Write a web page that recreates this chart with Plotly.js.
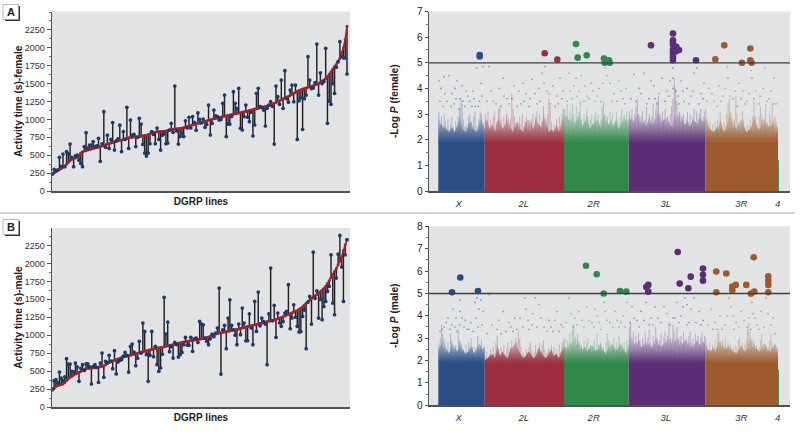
<!DOCTYPE html>
<html><head><meta charset="utf-8">
<script src="https://cdn.plot.ly/plotly-3.0.0.min.js"></script>
<style>html,body{margin:0;padding:0;background:#fff}#c{width:800px;height:438px}</style></head>
<body><div id="c"></div>
<script>
// Panel A line means (red) and the paired measurement (blue), by rank
const meanFemale=[232,250,268,285,300,315,330,345,372,398,425,445,455,462,470,490,530,548,558,565,572,580,588,595,600,608,612,620,628,635,645,655,662,670,678,688,695,702,708,714,720,728,735,742,748,752,755,758,760,762,765,770,775,780,790,800,810,818,822,826,828,830,832,835,838,845,852,860,862,865,868,870,874,878,885,892,900,908,915,922,930,938,945,950,958,965,972,980,988,995,1002,1008,1015,1020,1026,1032,1038,1044,1050,1056,1062,1068,1073,1078,1083,1088,1094,1100,1106,1112,1118,1124,1130,1137,1144,1150,1156,1162,1168,1174,1180,1188,1196,1205,1215,1225,1235,1250,1262,1275,1288,1300,1310,1322,1335,1350,1365,1378,1392,1405,1415,1425,1432,1440,1448,1455,1462,1470,1480,1490,1500,1515,1535,1550,1570,1595,1630,1665,1700,1740,1765,1800,1850,1930,2000,2115,2300];
const pairFemale=[240,302,280,295,470,345,517,340,550,520,656,470,340,490,500,430,385,340,620,815,600,640,640,690,620,630,735,414,660,1108,610,780,595,720,955,572,700,730,920,550,830,720,1168,595,990,780,790,620,750,1015,935,650,530,488,530,660,830,790,660,880,720,572,780,800,660,670,850,945,820,1466,840,655,760,800,760,980,880,1030,880,1040,960,850,1090,1000,950,1005,890,930,1200,782,945,1131,1050,1040,990,1000,1224,1340,760,935,935,1040,1387,1224,1155,1434,875,852,1040,1200,1030,968,1100,768,922,1364,1434,1180,1168,1130,908,1155,1200,1248,1180,656,1466,1317,1210,1550,1154,1680,1290,1240,1410,1480,1248,1480,721,1260,1300,861,1290,1340,1876,1550,1430,1440,1513,2053,1340,1650,1500,1530,1992,945,1255,1210,1500,1364,1730,1806,2085,1880,1860,1860,1634];
// Panel B
const meanMale=[235,258,285,300,308,312,320,340,370,395,415,430,445,458,470,482,495,510,525,533,538,540,542,545,548,552,555,560,566,575,590,605,620,630,640,650,660,670,680,688,695,702,708,715,722,728,735,742,750,756,762,768,775,782,790,798,805,812,815,820,824,828,832,838,845,852,858,862,868,875,880,888,895,900,905,910,915,920,925,928,932,935,938,945,950,955,960,968,975,985,995,1005,1015,1022,1030,1035,1040,1045,1050,1055,1060,1065,1070,1075,1080,1085,1092,1100,1108,1114,1120,1126,1132,1138,1144,1150,1156,1162,1168,1175,1182,1190,1196,1200,1206,1212,1220,1228,1238,1248,1258,1268,1280,1290,1300,1312,1322,1332,1345,1360,1375,1395,1420,1445,1465,1490,1510,1530,1550,1565,1585,1605,1630,1650,1680,1720,1760,1800,1850,1890,1930,1980,2030,2090,2180,2260,2330];
const pairMale=[250,366,380,340,487,404,366,420,673,598,598,497,490,612,560,357,540,590,510,600,600,560,320,566,590,550,343,612,752,413,636,620,720,640,534,784,460,627,650,660,710,760,720,487,845,877,765,575,680,914,750,1170,1053,730,357,720,1053,700,845,590,497,543,735,1527,1016,1183,770,840,682,900,870,696,730,760,868,970,860,860,970,775,950,960,900,1192,1155,1145,960,914,868,950,1016,980,1030,1100,1656,459,1076,1137,812,1239,1494,1137,1076,1000,868,1155,1007,1378,1169,923,923,1299,1100,868,1471,1053,1600,1130,1239,1190,1155,589,1299,1935,1200,1415,970,1308,1170,1123,1190,1308,1332,1703,1090,1240,1424,1250,1123,1044,1050,1262,1350,812,1461,1540,1155,2157,1513,1619,1239,1500,1216,1400,1470,1610,1680,2120,1448,1285,1796,2130,2390,1950,1471,2120,2330];
const lineTicks=[0,250,500,750,1000,1250,1500,1750,2000,2250];

// Chromosomes
const chromNames=['X','2L','2R','3L','3R','4'];
const chromStart=[9.3,55.7,135,199.7,276.3,349];
const chromEnd=[55.7,135,199.7,276.3,349,349.9];
const chromColors=['#2a4d86','#9c2e40','#30894b','#5b2e76','#9d5a2c','#30894b'];
const chromRGB=['42,77,134','156,46,64','48,137,75','91,46,118','157,90,44','48,137,75'];
const chromLabelPos=[29.7,94.7,164.7,236.7,312.3,348.7];

// -log P upper envelopes read along each chromosome
const envF_X=[2.9,2.6,2.5,2.4,2.3,2.5,2.3,2.6,2.9,2.4,2.3,2.6,2.7,2.4,2.3,2.7,2.8,2.4];
const envF_2L=[2.7,2.8,2.4,2.6,2.3,2.9,2.7,2.4,2.6,3.1,2.5,2.3,2.6,2.7,2.4,2.3,2.7,2.8,2.7,2.4,2.9,2.6,2.5,3.1,2.8,2.3,2.4,2.3,2.6,2.3,2.7,2.9];
const envF_2R=[2.9,3.0,2.7,3.0,2.6,2.8,3.0,2.5,2.7,2.9,2.4,2.6,2.7,2.8,2.5,2.9,3.0,2.6,2.7,2.5,2.8,2.4,2.6,2.9,2.7,2.8];
const envF_3L=[2.8,2.9,2.7,3.0,3.1,2.6,2.8,2.5,2.9,2.7,2.6,3.0,3.2,2.7,2.8,2.9,2.6,2.5,3.0,3.3,3.1,2.8,2.6,2.7,2.5,2.8,2.7,2.6,2.9,2.7,2.8];
const envF_3R=[2.9,2.6,2.4,2.3,2.4,2.5,2.8,2.3,2.4,2.9,3.1,2.6,2.4,2.7,2.8,2.5,2.3,2.4,2.6,3.0,2.5,2.4,2.9,2.7,2.6,2.5,2.7,3.0,2.3];
const envF_4=[1.2,1.2];
const envM_X=[2.5,2.7,3.1,2.5,2.3,2.8,2.6,2.4,2.9,2.5,2.3,2.4,2.7,2.3,2.5,2.8,2.5,2.6];
const envM_2L=[2.0,2.1,2.2,2.3,2.1,2.7,2.2,2.4,2.2,2.1,2.5,2.6,2.9,2.5,2.3,2.1,2.2,2.4,2.3,2.1,2.2,2.6,2.4,2.2,2.1,2.3,2.5,2.2,2.3,2.1,2.4,2.6];
const envM_2R=[2.7,2.5,2.8,2.7,3.0,3.1,2.8,2.5,2.6,2.4,2.6,2.7,2.4,2.5,2.8,2.5,2.3,2.5,2.8,2.7,2.4,2.6,2.8,2.5,2.3,2.6];
const envM_3L=[3.0,3.1,2.7,2.8,2.9,2.6,2.7,2.9,2.7,2.6,2.9,3.0,2.7,2.6,2.8,3.0,2.9,3.2,2.8,3.1,3.0,2.7,2.9,2.9,2.7,2.6,2.8,2.9,2.7,2.9,2.8];
const envM_3R=[2.7,2.5,2.4,2.6,2.4,2.8,2.9,2.6,2.5,2.7,2.5,2.4,2.3,2.5,2.7,2.4,2.5,3.0,3.2,2.7,2.5,2.4,2.6,2.8,2.5,2.4,2.6,2.8,2.3];
const envM_4=[1.6,1.6];

// Narrow streaks of stacked SNPs: top of each streak
const spikeF_X=[3.1,2.6,2.9,2.4,3.0,2.7,2.5,2.8,2.4,2.6,2.9,2.5,2.3,2.7,2.5,2.9,3.2,3.6,3.4,2.8,2.5,2.6,2.3,2.9,3.0,2.7,2.4,2.9,3.1,2.5,2.3,2.8,3.1,3.0,2.6,2.4];
const spikeF_2L=[3.0,2.7,3.1,2.5,2.8,2.6,2.9,3.1,2.4,2.7,3.2,3.3,2.8,2.5,2.9,2.6,3.0,2.7,2.4,2.8,3.8,3.2,2.9,2.5,2.7,2.4,2.9,2.6,3.0,2.5,2.7,2.9,2.4,2.6,2.3,2.8,3.0,2.5,2.9,3.1,2.6,3.0,2.5,2.7,3.3,2.8,2.5,3.0,3.6,3.3,2.7,2.4,2.6,2.3,2.8,2.5,2.9,2.4,3.0,3.2];
const spikeF_2R=[3.2,2.9,3.4,2.8,3.1,2.7,3.4,3.0,2.7,3.3,2.9,3.1,3.5,2.8,2.6,3.0,2.7,3.2,2.9,2.6,2.8,3.0,2.6,2.9,3.1,2.7,3.0,2.6,2.8,3.3,3.5,3.0,2.7,2.9,2.6,3.1,2.8,3.0,2.6,2.7,3.1,2.8,2.6,2.9,3.2,2.7,3.0,2.8,3.1,2.6];
const spikeF_3L=[3.1,2.8,3.2,2.7,3.0,3.3,3.6,3.0,2.7,2.9,3.1,2.6,2.8,3.3,2.7,3.0,2.6,2.9,3.4,2.8,3.2,3.5,3.7,3.0,2.7,3.1,2.8,3.2,2.6,2.9,2.7,3.0,3.3,3.6,4.4,4.0,3.5,2.9,3.1,2.7,2.9,3.0,2.6,2.8,3.1,2.7,3.0,2.6,2.9,3.2,2.7,3.1,2.8,3.0,3.2,2.7,2.9,3.1];
const spikeF_3R=[3.2,2.8,2.5,2.7,2.4,2.6,2.3,2.7,2.5,2.8,2.4,3.1,2.6,2.4,2.7,2.5,3.0,3.4,3.6,3.1,2.7,2.5,2.8,3.7,3.0,2.6,2.4,2.7,3.1,2.8,2.5,2.3,2.6,2.4,2.8,2.5,2.9,3.5,2.9,2.6,2.4,2.9,3.3,3.0,2.6,2.8,3.4,2.7,2.5,3.0,2.8,3.4,2.6,2.4,2.3,2.5];
const spikeM_X=[2.7,3.0,3.6,3.2,2.6,2.3,2.5,2.8,2.4,3.2,2.9,2.5,2.3,2.7,2.4,3.4,2.9,2.6,2.4,2.5,2.3,2.7,2.4,2.8,2.5,3.0,2.6,2.4,2.6,2.3,3.1,2.5,2.7,2.9,2.4,2.6];
const spikeM_2L=[2.2,2.4,2.1,2.3,2.5,2.2,2.6,2.3,2.8,3.1,2.5,2.3,2.6,2.4,2.7,2.3,2.5,2.8,2.4,2.6,2.9,2.4,2.7,3.0,2.8,3.3,3.0,2.6,2.3,2.4,2.2,2.5,2.3,2.6,2.8,2.5,2.3,2.4,2.7,2.3,2.5,2.8,2.4,2.7,2.9,2.5,2.3,2.4,2.6,2.3,2.7,2.4,2.6,2.3,2.5,2.3,2.7,2.4,2.8,2.9];
const spikeM_2R=[3.0,2.6,2.9,2.5,3.2,2.8,3.4,3.6,3.1,2.7,3.2,2.8,2.5,2.7,2.4,2.9,2.6,2.8,3.0,2.5,2.7,2.4,2.6,2.9,2.5,3.2,2.7,2.5,2.8,2.4,2.6,2.4,2.8,3.2,2.9,2.6,2.4,2.7,3.0,2.6,2.8,2.5,3.1,2.7,2.4,2.6,2.8,2.5,2.9,2.7];
const spikeM_3L=[3.5,3.7,3.0,3.3,2.8,3.1,2.7,3.2,2.9,2.6,3.0,2.8,3.3,2.7,3.0,3.4,2.8,2.6,3.1,2.7,3.5,3.0,2.7,2.9,3.2,2.7,3.0,3.3,2.8,3.1,3.7,3.0,2.8,3.6,3.3,2.9,3.5,3.0,2.7,3.1,2.8,3.3,2.9,3.0,2.7,3.1,3.3,2.8,3.0,2.7,3.2,2.9,3.1,2.7,3.0,3.3,2.8,3.1];
const spikeM_3R=[3.0,2.7,2.5,2.8,2.4,2.7,2.5,2.9,2.6,3.2,3.3,2.8,2.6,2.9,2.7,3.0,2.6,2.8,2.5,2.7,2.4,2.6,2.3,2.7,2.5,2.9,3.0,2.6,2.8,2.5,2.7,2.9,3.4,3.7,3.3,2.9,2.6,2.8,2.5,2.7,2.4,2.6,2.9,3.2,2.7,2.5,2.7,2.4,2.6,2.9,3.2,2.8,2.5,2.7,2.4,2.6];

// Sparse low-significance SNPs [position, -log P]
const speckF_X=[[12,4.0],[15,4.45],[20,4.5],[23,3.8],[25,3.4],[28,4.3],[31,3.6],[33,4.1],[36,3.3],[39,3.7],[41,3.5],[44,3.9],[46,3.3],[48,4.8],[50,3.5],[52,4.2],[54,4.85],[14,3.3],[18,3.5],[30,3.2],[43,3.3],[11,3.5],[16,3.8],[22,3.3],[27,3.6],[34,3.5],[37,3.9],[45,3.6],[49,3.3],[53,3.7],[10,4.3],[26,4.0]];
const speckF_2L=[[60,4.85],[64,3.5],[70,4.0],[75,3.7],[80,3.4],[85,4.1],[90,3.9],[95,3.5],[100,3.3],[103,4.35],[106,3.8],[110,4.0],[113,4.6],[116,4.85],[118,3.9],[121,3.4],[124,4.1],[128,3.7],[131,4.4],[133,3.6],[72,3.3],[88,3.3],[108,3.4],[126,3.3],[58,3.5],[62,3.9],[67,3.4],[78,3.6],[83,3.6],[92,3.4],[97,3.8],[101,3.6],[111,3.5],[115,4.2],[120,3.8],[129,3.4],[134,3.9],[74,4.4],[94,4.2]];
const speckF_2R=[[140,4.6],[145,4.1],[150,3.9],[152,4.5],[158,3.7],[162,4.2],[166,3.5],[170,4.0],[176,4.8],[178,4.5],[181,4.2],[185,3.8],[190,4.3],[194,3.6],[197,4.0],[143,3.6],[155,3.5],[172,3.5],[188,3.5],[138,3.5],[141,3.9],[148,3.7],[156,4.1],[160,3.6],[164,3.9],[168,3.7],[174,4.2],[183,3.5],[192,3.9],[196,3.4],[147,4.4]];
const speckF_3L=[[205,4.55],[210,4.0],[215,4.6],[220,3.6],[225,4.1],[230,3.8],[233,4.4],[238,3.9],[241,4.3],[244,4.4],[244,4.0],[244,4.8],[247,3.9],[252,4.3],[255,3.5],[258,4.0],[262,3.7],[265,4.6],[268,4.8],[272,3.8],[275,4.2],[218,3.4],[228,3.4],[250,3.4],[202,3.6],[207,3.5],[212,3.8],[222,4.3],[226,3.6],[236,3.5],[240,3.7],[249,3.7],[254,3.9],[260,3.4],[264,3.9],[270,3.4],[274,3.6]];
const speckF_3R=[[280,4.0],[285,3.5],[290,4.1],[294,3.7],[298,4.85],[299,4.4],[304,3.6],[310,4.2],[314,3.9],[318,3.5],[322,4.7],[323,4.4],[327,3.9],[331,3.7],[336,4.8],[340,3.6],[345,4.4],[347,3.4],[288,3.3],[308,3.3],[330,3.4],[278,3.5],[283,3.8],[292,3.5],[296,4.0],[301,3.7],[306,3.9],[312,3.6],[316,3.4],[320,3.8],[325,3.6],[334,4.0],[338,3.5],[342,3.9],[344,3.4]];
const speckM_X=[[17,3.7],[21,3.4],[24,4.3],[27,3.9],[31,4.7],[31,4.2],[31,3.6],[35,3.5],[38,3.4],[42,3.7],[46,4.6],[48,4.8],[50,4.3],[52,4.7],[13,3.4],[28,3.3],[44,3.3],[53,3.6],[11,3.3],[15,3.5],[19,3.9],[23,3.6],[26,3.5],[33,3.9],[36,3.8],[40,3.4],[47,3.9],[49,3.5],[54,4.2]];
const speckM_2L=[[60,4.95],[68,3.4],[74,4.2],[80,3.7],[84,3.3],[91,3.9],[96,4.8],[97,4.3],[103,3.6],[106,4.8],[110,4.5],[115,3.5],[120,3.8],[124,3.3],[128,4.2],[132,3.6],[77,3.3],[88,3.4],[100,3.4],[118,3.3],[58,3.2],[63,3.6],[70,3.8],[72,3.2],[82,3.5],[86,3.9],[94,3.5],[99,3.8],[104,4.1],[108,3.5],[112,3.9],[122,3.5],[126,3.8],[130,3.3],[134,3.5]];
const speckM_2R=[[140,4.8],[146,3.9],[150,4.2],[155,3.5],[158,4.4],[163,3.7],[168,4.0],[175,4.6],[176,4.2],[181,3.7],[186,4.2],[190,3.5],[194,4.0],[198,4.6],[144,3.5],[153,3.8],[172,3.4],[184,3.5],[137,3.7],[142,4.1],[148,3.6],[160,3.8],[165,3.5],[170,3.7],[178,3.8],[188,3.8],[192,3.7],[196,3.5],[166,4.3]];
const speckM_3L=[[203,4.4],[208,3.8],[212,4.2],[217,4.6],[222,3.9],[226,4.4],[232,3.7],[238,4.1],[244,3.9],[248,4.6],[252,4.0],[256,4.8],[260,3.7],[265,4.8],[270,4.2],[274,3.8],[205,3.9],[229,3.9],[246,3.9],[262,4.3],[201,3.7],[210,3.5],[215,3.8],[220,3.6],[224,3.6],[235,4.4],[241,3.6],[250,3.7],[254,4.4],[258,3.6],[267,3.7],[272,3.6],[258,4.5]];
const speckM_3R=[[282,4.3],[286,3.7],[291,4.0],[296,3.6],[300,4.8],[302,4.4],[307,3.7],[312,4.2],[318,3.5],[323,4.6],[324,4.1],[328,3.6],[332,4.2],[337,4.8],[342,3.6],[346,3.2],[288,3.4],[305,3.4],[320,3.9],[335,3.5],[279,3.6],[284,3.4],[293,3.4],[298,4.0],[304,4.0],[310,3.5],[315,3.8],[322,3.4],[326,3.9],[330,3.4],[339,4.1],[344,3.9]];

// Genome-wide significant SNPs [position, -log P]
const sigF_X=[[50.7,5.3],[50.7,5.25]];
const sigF_2L=[[115.7,5.37],[128.3,5.13]];
const sigF_2R=[[147,5.73],[148.7,5.2],[157.7,5.29],[175,5.17],[175.7,5.0],[178,5.05],[180,5.1],[180.7,5.0]];
const sigF_3L=[[222,5.68],[244,6.14],[244,5.88],[244,5.78],[244,5.69],[244,5.5],[244,5.4],[244,5.3],[244,5.2],[244,5.1],[247.3,5.62],[247,5.45],[250,5.5],[267,5.1]];
const sigF_3R=[[286.3,5.14],[295.3,5.68],[313,5.0],[321.3,5.56],[321.3,5.1],[322.7,5.0]];
const sigM_X=[[23,5.05],[31.3,5.71],[49,5.11]];
const sigM_2R=[[157,6.24],[167.7,5.86],[174.7,5.0],[191,5.11],[197.3,5.08]];
const sigM_3L=[[217.3,5.29],[219.3,5.38],[219.3,5.08],[248.7,6.85],[250.7,5.44],[259.3,5.23],[261.7,5.75],[274,6.11],[274,5.83],[274,5.57]];
const sigM_3R=[[287.3,5.98],[287.3,5.05],[297.3,5.89],[303.3,5.31],[303.3,5.14],[306.7,5.38],[317.3,5.38],[322,4.99],[325.3,5.08],[324.7,6.62],[339.3,5.77],[339.3,5.57],[339.3,5.38],[339.3,5.05]];

const SANS='"Liberation Sans",Arial,sans-serif';
const W=800,H=438;
const dx=(a,b)=>[a/W,b/W], dy=(top,bot)=>[1-bot/H,1-top/H];
const traces=[];

function linePanel(mean,pair,xa,ya){
  const sx=[],sy=[];
  mean.forEach((m,i)=>{sx.push(i+1,i+1,null);sy.push(m,pair[i],null);});
  const rank=mean.map((_,i)=>i+1);
  traces.push({x:sx,y:sy,xaxis:xa,yaxis:ya,mode:'lines',line:{color:'#1f2124',width:1.45},hoverinfo:'skip',connectgaps:false});
  traces.push({x:rank,y:mean,xaxis:xa,yaxis:ya,mode:'lines+markers',line:{color:'#a3222f',width:1.7},marker:{color:'#a3222f',size:3}});
  traces.push({x:rank,y:pair,xaxis:xa,yaxis:ya,mode:'markers',marker:{color:'#1e3a68',size:3.7}});
}
function manhattan(envs,spikes,specks,sigs,xa,ya){
  envs.forEach((env,c)=>{
    const xs=env.map((_,i)=>chromStart[c]+(chromEnd[c]-chromStart[c])*i/(env.length-1));
    traces.push({x:xs,y:env,xaxis:xa,yaxis:ya,mode:'lines',line:{width:0,color:chromColors[c]},fill:'tozeroy',
      fillgradient:{type:'vertical',start:3.1,stop:1.85,colorscale:[[0,`rgba(${chromRGB[c]},0)`],[0.45,`rgba(${chromRGB[c]},0.35)`],[0.8,`rgba(${chromRGB[c]},0.8)`],[1,`rgba(${chromRGB[c]},1)`]]}});
  });
  spikes.forEach((tops,c)=>{
    const sx=[],sy=[];
    tops.forEach((t,i)=>{const px=chromStart[c]+(chromEnd[c]-chromStart[c])*(i+.5)/tops.length;sx.push(px,px,null);sy.push(1.85,t,null);});
    traces.push({x:sx,y:sy,xaxis:xa,yaxis:ya,mode:'lines',line:{width:1,color:`rgba(${chromRGB[c]},0.3)`},connectgaps:false});
  });
  specks.forEach((pts,c)=>traces.push({x:pts.map(p=>p[0]),y:pts.map(p=>p[1]),xaxis:xa,yaxis:ya,mode:'markers',marker:{size:1.7,color:chromColors[c],opacity:.5}}));
  sigs.forEach(([pts,c])=>traces.push({x:pts.map(p=>p[0]),y:pts.map(p=>p[1]),xaxis:xa,yaxis:ya,mode:'markers',marker:{size:6.6,color:chromColors[c]}}));
}
linePanel(meanFemale,pairFemale,'x','y');
manhattan([envF_X,envF_2L,envF_2R,envF_3L,envF_3R,envF_4],[spikeF_X,spikeF_2L,spikeF_2R,spikeF_3L,spikeF_3R],[speckF_X,speckF_2L,speckF_2R,speckF_3L,speckF_3R],
  [[sigF_X,0],[sigF_2L,1],[sigF_2R,2],[sigF_3L,3],[sigF_3R,4]],'x2','y2');
linePanel(meanMale,pairMale,'x3','y3');
manhattan([envM_X,envM_2L,envM_2R,envM_3L,envM_3R,envM_4],[spikeM_X,spikeM_2L,spikeM_2R,spikeM_3L,spikeM_3R],[speckM_X,speckM_2L,speckM_2R,speckM_3L,speckM_3R],
  [[sigM_X,0],[sigM_2R,2],[sigM_3L,3],[sigM_3R,4]],'x4','y4');

const tickF={family:SANS,size:9,color:'#333'};
const spine={showline:true,linecolor:'#4e5155',linewidth:1.5,showgrid:false,zeroline:false,layer:'below traces'};
function xLine(dom,anchor){return {...spine,domain:dom,anchor,range:[0.8,168.7],showticklabels:false,ticks:'',title:{text:'<b>DGRP lines</b>',font:{family:SANS,size:10,color:'#222'},standoff:6}};}
function xGene(dom,anchor){return {...spine,domain:dom,anchor,range:[0,361],tickmode:'array',tickvals:chromLabelPos,ticktext:chromNames.map(n=>'<i>'+n+'</i>'),ticks:'',tickfont:{family:SANS,size:9.5,color:'#333'},ticklabelstandoff:3};}
function yLine(dom,anchor,top,label){return {...spine,domain:dom,anchor,range:[0,top],tickmode:'array',tickvals:lineTicks,ticks:'outside',ticklen:4,tickwidth:1,tickcolor:'#4e5155',tickfont:tickF,
  minor:{tick0:0,dtick:125,ticks:'outside',ticklen:2,tickwidth:1,tickcolor:'#777'},title:{text:'<b>'+label+'</b>',font:{family:SANS,size:10.2,color:'#222'},standoff:0}};}
function yGene(dom,anchor,top,label){return {...spine,domain:dom,anchor,range:[0,top],tickmode:'linear',tick0:0,dtick:1,ticks:'outside',ticklen:3,tickwidth:1,tickcolor:'#4e5155',tickfont:{family:SANS,size:10,color:'#222'},
  minor:{tick0:0,dtick:.5,ticks:'outside',ticklen:2,tickwidth:1,tickcolor:'#777'},
  title:{text:'<b>-Log </b><b><i>P</i></b><b> ('+label+')</b>',font:{family:SANS,size:10.2,color:'#222'},standoff:16}};}

const L=dx(52,350),R=dx(429,790);
const layout={width:W,height:H,margin:{l:0,r:0,t:0,b:0},paper_bgcolor:'#fff',plot_bgcolor:'#e1e3e5',showlegend:false,hovermode:false,
  xaxis:xLine(L,'y'),yaxis:yLine(dy(11.5,191),'x',2507,'Activity time (s)-female'),
  xaxis2:xGene(R,'y2'),yaxis2:yGene(dy(11.5,191),'x2',7,'female'),
  xaxis3:xLine(L,'y3'),yaxis3:yLine(dy(228,407),'x3',2493,'Activity time (s)-male'),
  xaxis4:xGene(R,'y4'),yaxis4:yGene(dy(226.3,405.3),'x4',8,'male'),
  shapes:[
    {type:'line',xref:'paper',yref:'paper',x0:0,x1:795/W,y0:1-213/H,y1:1-213/H,line:{color:'#a8aaac',width:1}},
    {type:'line',xref:'x2',yref:'y2',x0:0,x1:361,y0:5,y1:5,line:{color:'#3c3f42',width:1.2}},
    {type:'line',xref:'x4',yref:'y4',x0:0,x1:361,y0:5,y1:5,line:{color:'#3c3f42',width:1.4}},
    {type:'rect',xref:'paper',yref:'paper',x0:5/W,x1:20/W,y0:1-21/H,y1:1-6/H,fillcolor:'#333',line:{width:0}},
    {type:'rect',xref:'paper',yref:'paper',x0:3/W,x1:18.5/W,y0:1-19.5/H,y1:1-4.5/H,fillcolor:'#fff',line:{color:'#999',width:.7}},
    {type:'rect',xref:'paper',yref:'paper',x0:5/W,x1:20/W,y0:1-236/H,y1:1-221/H,fillcolor:'#333',line:{width:0}},
    {type:'rect',xref:'paper',yref:'paper',x0:3/W,x1:18.5/W,y0:1-234.5/H,y1:1-219.5/H,fillcolor:'#fff',line:{color:'#999',width:.7}}
  ],
  annotations:[
    {text:'<b>A</b>',xref:'paper',yref:'paper',x:10.7/W,y:1-12/H,xanchor:'center',yanchor:'middle',showarrow:false,font:{family:SANS,size:11,color:'#222'}},
    {text:'<b>B</b>',xref:'paper',yref:'paper',x:10.7/W,y:1-227/H,xanchor:'center',yanchor:'middle',showarrow:false,font:{family:SANS,size:11,color:'#222'}}
  ]};
Plotly.newPlot('c',traces,layout,{staticPlot:true,displayModeBar:false});
</script></body></html>
